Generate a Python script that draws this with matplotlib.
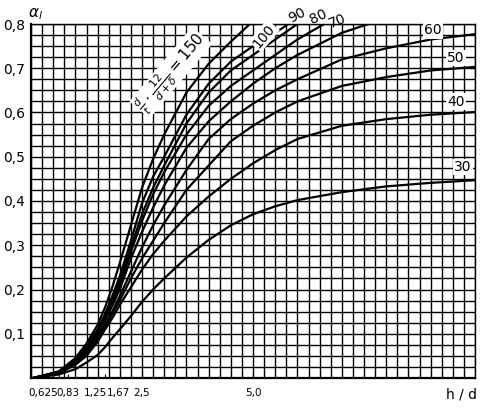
import numpy as np
import matplotlib.pyplot as plt

plt.rcParams['font.family'] = ['DejaVu Sans']
plt.rcParams['mathtext.fontset'] = 'dejavusans'

# curve parameter d/t * 12/(d+delta)
params = [30, 40, 50, 60, 70, 80, 90, 100, 150]

# h/d values
x_base = [0.05, 0.625, 1.0, 1.25, 1.5, 1.67, 1.83, 2.0, 2.25, 2.5, 2.75, 3.0, 3.5, 4.0, 4.5, 5.0]
x_full = x_base + [5.5, 6.0, 7.0, 8.0, 9.0, 10.0]
x70 = x_base + [5.5, 6.0, 6.5, 7.0, 7.6]
x80 = x_base + [5.5, 6.0, 6.6]
x90 = x_base + [5.5, 6.0]
x100 = x_base + [5.5, 5.8]
x150 = x_base[:-1] + [4.93]

# alpha_l values for each curve
a30 = [0.0, 0.008, 0.02, 0.035, 0.052, 0.07, 0.09, 0.11, 0.14, 0.172, 0.2, 0.225, 0.272,
       0.312, 0.345, 0.37, 0.388, 0.402, 0.42, 0.433, 0.441, 0.447]
a40 = [0.0, 0.01, 0.03, 0.05, 0.082, 0.11, 0.135, 0.165, 0.205, 0.245, 0.28, 0.31, 0.365,
       0.41, 0.45, 0.485, 0.515, 0.54, 0.57, 0.585, 0.595, 0.601]
a50 = [0.0, 0.012, 0.032, 0.055, 0.087, 0.115, 0.145, 0.175, 0.225, 0.27, 0.31, 0.35, 0.425,
       0.48, 0.535, 0.57, 0.60, 0.625, 0.66, 0.68, 0.695, 0.703]
a60 = [0.0, 0.012, 0.035, 0.06, 0.09, 0.12, 0.15, 0.185, 0.24, 0.295, 0.345, 0.39, 0.47,
       0.54, 0.585, 0.62, 0.65, 0.675, 0.72, 0.745, 0.765, 0.777]
a70 = [0.0, 0.013, 0.037, 0.065, 0.097, 0.13, 0.163, 0.2, 0.27, 0.33, 0.385, 0.435, 0.52,
       0.58, 0.625, 0.665, 0.70, 0.73, 0.755, 0.78, 0.80]
a80 = [0.0, 0.013, 0.04, 0.068, 0.10, 0.135, 0.17, 0.21, 0.285, 0.355, 0.415, 0.465, 0.55,
       0.615, 0.66, 0.695, 0.73, 0.765, 0.80]
a90 = [0.0, 0.013, 0.04, 0.07, 0.105, 0.14, 0.178, 0.22, 0.295, 0.37, 0.43, 0.48, 0.575,
       0.645, 0.695, 0.73, 0.765, 0.80]
a100 = [0.0, 0.014, 0.042, 0.072, 0.11, 0.145, 0.185, 0.23, 0.31, 0.395, 0.455, 0.50, 0.595,
        0.665, 0.715, 0.75, 0.78, 0.80]
a150 = [0.0, 0.015, 0.045, 0.078, 0.12, 0.16, 0.205, 0.26, 0.345, 0.43, 0.495, 0.55, 0.645,
        0.71, 0.76, 0.80]

curves = [(x_full, a30), (x_full, a40), (x_full, a50), (x_full, a60),
          (x70, a70), (x80, a80), (x90, a90), (x100, a100), (x150, a150)]

y_labels = ['0,1', '0,2', '0,3', '0,4', '0,5', '0,6', '0,7', '0,8']
x_ticks = [0.625, 0.83, 1.25, 1.67, 2.5, 5.0]
x_labels = ['0,625', '0,83', '1,25', '1,67', '2,5', '5,0']

fig = plt.figure(figsize=(4.88, 4.13), dpi=100)
ax = fig.add_axes([31 / 488, 35 / 413, 444 / 488, 354 / 413])
ax.set_xlim(0, 10)
ax.set_ylim(0, 0.8)

# grid paper
ax.vlines(np.arange(0, 10.01, 0.25), 0, 0.8, color='black', lw=1.0, zorder=1)
ax.hlines(np.arange(0, 0.801, 0.025), 0, 10, color='black', lw=1.0, zorder=1)

for xs, ys in curves:
    ax.plot(xs, ys, color='black', lw=1.6, zorder=3,
            solid_capstyle='round', solid_joinstyle='round')

for s in ax.spines.values():
    s.set_linewidth(1.0)
ax.spines['left'].set_linewidth(1.6)
ax.spines['bottom'].set_linewidth(1.6)

ax.set_yticks(np.arange(0.1, 0.81, 0.1))
ax.set_yticklabels(y_labels, fontsize=10)
ax.tick_params(axis='y', length=0, pad=4)
ax.set_xticks(x_ticks)
ax.set_xticklabels([])
ax.tick_params(axis='x', length=3, direction='in', width=0.8)

# x tick labels sit a bit left of their ticks, as in the print
label_x = [0.27, 0.84, 1.45, 1.97, 2.5, 5.0]
for lx, lab in zip(label_x, x_labels):
    ax.text(lx, -0.022, lab, ha='center', va='top', fontsize=7.5)
ax.text(9.7, -0.022, 'h / d', ha='center', va='top', fontsize=10)
fig.text(28 / 488, 1 - 14 / 413, r'$\alpha_l$', ha='left', va='center', fontsize=11)

box = dict(facecolor='white', edgecolor='none', pad=1.0)
ax.text(9.05, 0.786, '60', fontsize=10, ha='center', va='center', bbox=box, zorder=4)
ax.text(9.57, 0.723, '50', fontsize=10, ha='center', va='center', bbox=box, zorder=4)
ax.text(9.57, 0.624, '40', fontsize=10, ha='center', va='center', bbox=box, zorder=4)
ax.text(9.73, 0.477, '30', fontsize=10, ha='center', va='center', bbox=box, zorder=4)
ax.text(6.9, 0.807, '70', fontsize=10, ha='center', va='center', rotation=22, clip_on=False)
ax.text(6.46, 0.816, '80', fontsize=10, ha='center', va='center', rotation=25, clip_on=False)
ax.text(6.0, 0.82, '90', fontsize=10, ha='center', va='center', rotation=28, clip_on=False)
ax.text(5.25, 0.773, '100', fontsize=10, ha='center', va='center', rotation=50,
        bbox=box, zorder=4)
ax.text(3.15, 0.69, r'$\frac{d}{t}\cdot\frac{12}{d+\delta}=150$', fontsize=11,
        ha='center', va='center', rotation=50,
        bbox=dict(facecolor='white', edgecolor='none', pad=0.3), zorder=4)

fig.savefig('out.png', dpi=100)
